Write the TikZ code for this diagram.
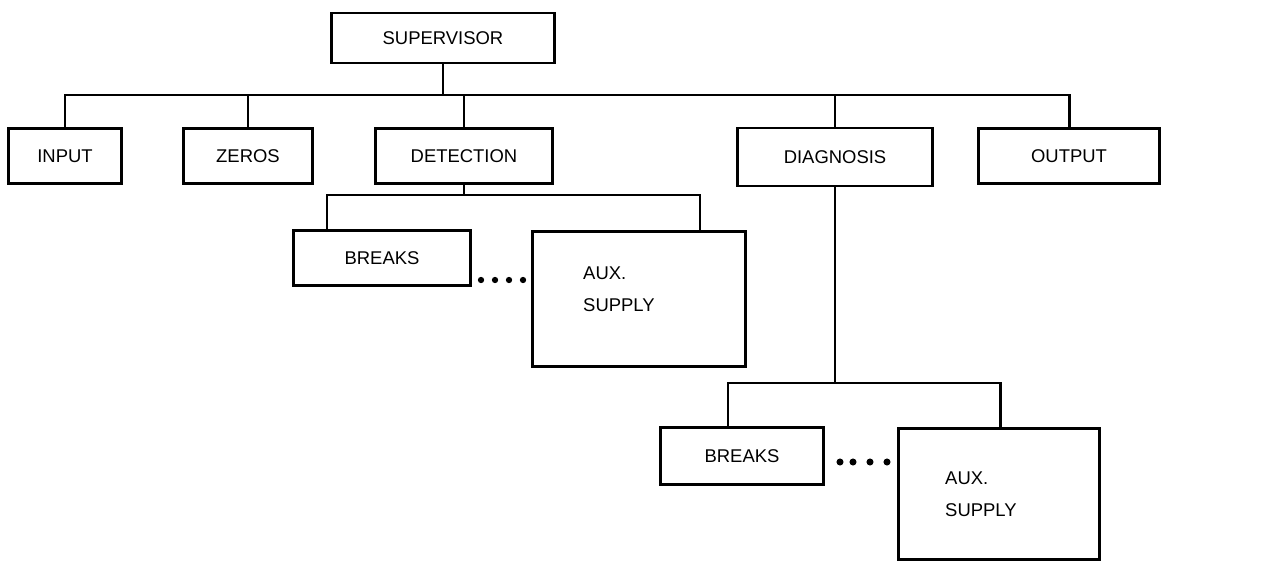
\documentclass[tikz,border=0pt]{standalone}
\usepackage{fontspec}
\setmainfont{Liberation Sans}

\tikzset{
  block/.style={draw, line width=1.7pt, inner sep=0pt, font=\fontsize{10.5}{12}\selectfont},
  wire/.style={line width=1.7pt},
  auxtext/.style={anchor=west, align=left, font=\fontsize{10.5}{18}\selectfont}
}

\begin{document}
\begin{tikzpicture}[x=0.02cm, y=-0.02cm]
        \useasboundingbox (0,0) rectangle (1286,568);

        \node[block, minimum width=4.46cm, minimum height=1cm] (sup) at (443,38) {SUPERVISOR};

        \node[block, minimum width=2.28cm, minimum height=1.1cm] (inp) at (65,156) {INPUT};
        \node[block, minimum width=2.6cm, minimum height=1.1cm] (zer) at (248,156) {ZEROS};
        \node[block, minimum width=3.56cm, minimum height=1.1cm] (det) at (464,156) {DETECTION};
        \node[block, minimum width=3.9cm, minimum height=1.16cm] (dia) at (835,157) {DIAGNOSIS};
        \node[block, minimum width=3.64cm, minimum height=1.1cm] (out) at (1069,156) {OUTPUT};

        \coordinate (bus) at (0,95);
        \draw[wire] (inp.north) |- (out.north |- bus) -- (out.north);
        \foreach \n in {sup.south, zer.north, det.north, dia.north}
            \draw[wire] (\n) -- (\n |- bus);

        \node[block, minimum width=3.54cm, minimum height=1.1cm] (brA) at (382,258) {BREAKS};
        \node[block, minimum width=4.26cm, minimum height=2.72cm] (auxA) at (639,299) {};
        \node[auxtext] (auxAt) at (577,289) {AUX.\\SUPPLY};

        \coordinate (dA) at (327,195);
        \coordinate (dB) at (700,195);
        \draw[wire] (det.south) -- (det.south |- dA);
        \draw[wire] (brA.north -| dA) |- (dB) -- (auxA.north -| dB);
        \foreach \x in {481,495,509,523}
            \fill (\x,280) circle (1.8pt);

        \node[block, minimum width=3.26cm, minimum height=1.14cm] (brB) at (742,456) {BREAKS};
        \node[block, minimum width=4.04cm, minimum height=2.64cm] (auxB) at (999,494) {};
        \node[auxtext] (auxBt) at (939,494) {AUX.\\SUPPLY};

        \coordinate (eA) at (728,383);
        \coordinate (eB) at (1000,383);
        \draw[wire] (dia.south) -- (dia.south |- eA);
        \draw[wire] (brB.north -| eA) |- (eB) -- (auxB.north -| eB);
        \foreach \x in {840,853,870,887}
            \fill (\x,462) circle (2pt);
\end{tikzpicture}
\end{document}
